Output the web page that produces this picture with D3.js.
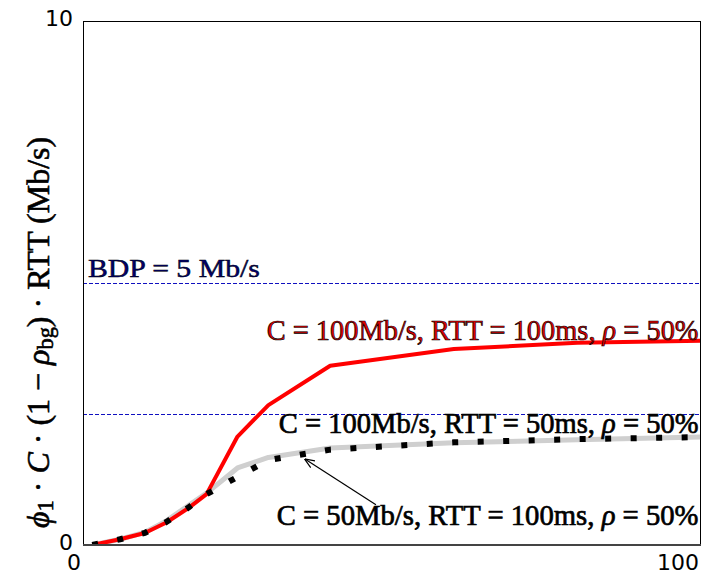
<!DOCTYPE html>
<html>
<head>
<meta charset="utf-8">
<script src="https://cdn.jsdelivr.net/npm/d3@7"></script>
<style>
  body { margin: 0; background: #fff; }
  svg { display: block; }
</style>
</head>
<body>
<svg id="chart" width="703" height="575"></svg>
<script>
// Sample points shared by all three runs (x axis, 0..100)
const xValues = [1.5, 6, 10, 13.5, 17, 20, 25, 30, 40, 60, 80, 100];
// C = 100Mb/s, RTT = 100ms
const series100x100 = [0, 0.11, 0.23, 0.43, 0.70, 0.97, 2.07, 2.67, 3.42, 3.74, 3.86, 3.90];
// C = 100Mb/s, RTT = 50ms
const series100x50 = [0, 0.11, 0.24, 0.46, 0.75, 0.99, 1.47, 1.67, 1.85, 1.95, 2.01, 2.06];
// C = 50Mb/s, RTT = 100ms
const series50x100 = [0, 0.11, 0.23, 0.44, 0.71, 0.97, 1.30, 1.62, 1.82, 1.96, 2.02, 2.06];
// Bandwidth-delay product reference levels
const refLevels = [5, 2.5];
const xTickValues = [0, 100];
const yTickValues = [0, 10];
const seriesLabels = [
  "C = 100Mb/s, RTT = 100ms, ",
  "C = 100Mb/s, RTT = 50ms, ",
  "C = 50Mb/s, RTT = 100ms, "
];
const bdpLabel = "BDP = 5 Mb/s";

const svg = d3.select("#chart");
const plot = { left: 83, right: 701, top: 21, bottom: 545 };

const x = d3.scaleLinear().domain([0, 100]).range([plot.left, plot.right]);
const y = d3.scaleLinear().domain([0, 10]).range([plot.bottom, plot.top]);

const defs = svg.append("defs");
defs.append("clipPath").attr("id", "plotClip")
  .append("rect")
  .attr("x", plot.left).attr("y", plot.top)
  .attr("width", plot.right - plot.left).attr("height", plot.bottom - plot.top);

const line = d3.line().x(d => x(d[0])).y(d => y(d[1]));
const zip = vals => xValues.map((v, i) => [v, vals[i]]);

const g = svg.append("g").attr("clip-path", "url(#plotClip)");

// Reference lines
g.selectAll("line.ref").data(refLevels).join("line")
  .attr("class", "ref")
  .attr("x1", plot.left).attr("x2", plot.right)
  .attr("y1", d => Math.round(y(d)) + 0.5).attr("y2", d => Math.round(y(d)) + 0.5)
  .attr("stroke", "#1010c0").attr("stroke-width", 1)
  .attr("stroke-dasharray", "4,2");

// Gray run
g.append("path").datum(zip(series100x50))
  .attr("d", line).attr("fill", "none")
  .attr("stroke", "#cfcfcf").attr("stroke-width", 5)
  .attr("stroke-linejoin", "round");

// Red run
g.append("path").datum(zip(series100x100))
  .attr("d", line).attr("fill", "none")
  .attr("stroke", "#ff0000").attr("stroke-width", 4)
  .attr("stroke-linejoin", "round");

// Dotted black run
g.append("path").datum(zip(series50x100))
  .attr("d", line).attr("fill", "none")
  .attr("stroke", "#000").attr("stroke-width", 6)
  .attr("stroke-dasharray", "6,19.5")
  .attr("stroke-linecap", "butt");

// Frame
svg.append("rect")
  .attr("x", plot.left + 0.5).attr("y", plot.top + 0.5)
  .attr("width", plot.right - plot.left - 1).attr("height", plot.bottom - plot.top - 1)
  .attr("fill", "none").attr("stroke", "#000").attr("stroke-width", 1);
svg.append("line")
  .attr("x1", plot.left).attr("x2", plot.right)
  .attr("y1", plot.bottom).attr("y2", plot.bottom)
  .attr("stroke", "#444").attr("stroke-width", 2);

// Tick labels
const tickFont = "'DejaVu Sans', sans-serif";
svg.selectAll("text.xtick").data(xTickValues).join("text")
  .attr("class", "xtick")
  .attr("x", d => x(d) - 2).attr("y", 570)
  .attr("text-anchor", "end")
  .attr("font-family", tickFont).attr("font-size", 22)
  .text(d => d);
svg.selectAll("text.ytick").data(yTickValues).join("text")
  .attr("class", "ytick")
  .attr("x", plot.left - 10).attr("y", d => y(d) - 3)
  .attr("dy", "0.36em")
  .attr("text-anchor", "end")
  .attr("font-family", tickFont).attr("font-size", 22)
  .text(d => d);

// Math-style labels
const serif = "'Liberation Serif', 'DejaVu Serif', serif";

// Squeeze a right- or left-anchored label horizontally to a given width
function fitWidth(sel, anchorX, width) {
  const w = sel.node().getComputedTextLength();
  const k = width / w;
  sel.attr("transform", `translate(${anchorX},0) scale(${k},1) translate(${-anchorX},0)`);
}

function seriesText(label, px, py, width, fill) {
  const t = svg.append("text")
    .attr("x", px).attr("y", py)
    .attr("text-anchor", "end")
    .attr("font-family", serif).attr("font-size", 30)
    .attr("fill", fill).attr("stroke", "#000").attr("stroke-width", 0.7);
  t.append("tspan").text(label);
  t.append("tspan").attr("font-style", "italic").text("ρ");
  t.append("tspan").text(" = 50%");
  fitWidth(t, px, width);
  return t;
}

seriesText(seriesLabels[0], x(99.6), y(3.91), 432, "#e00000");
seriesText(seriesLabels[1], x(99.6), y(2.14), 420, "#000");
seriesText(seriesLabels[2], x(99.6), y(0.38), 422, "#000");

const bdp = svg.append("text")
  .attr("x", x(0.8)).attr("y", y(5.12))
  .attr("font-family", serif).attr("font-size", 26)
  .attr("fill", "#000070").attr("stroke", "#000").attr("stroke-width", 0.5)
  .text(bdpLabel);
fitWidth(bdp, x(0.8), 172);

// Annotation arrow pointing at the dotted run
const arrowTail = [47.4, 0.77];
const arrowTip = [35.9, 1.64];
defs.append("marker")
  .attr("id", "arrowHead")
  .attr("viewBox", "0 0 10 10").attr("refX", 9.5).attr("refY", 5)
  .attr("markerWidth", 10).attr("markerHeight", 10)
  .attr("markerUnits", "userSpaceOnUse")
  .attr("orient", "auto")
  .append("path").attr("d", "M0,1 L10,5 L0,9")
  .attr("fill", "none").attr("stroke", "#000").attr("stroke-width", 1.2);
svg.append("line")
  .attr("x1", x(arrowTail[0])).attr("y1", y(arrowTail[1]))
  .attr("x2", x(arrowTip[0])).attr("y2", y(arrowTip[1]))
  .attr("stroke", "#000").attr("stroke-width", 1.2)
  .attr("marker-end", "url(#arrowHead)");

// Y axis title, read bottom to top, sized to span the plot height
const yt = svg.append("text")
  .attr("transform", "translate(49,528) rotate(-90)")
  .attr("text-anchor", "start")
  .attr("font-family", serif).attr("font-size", 28)
  .attr("fill", "#000").attr("stroke", "#000").attr("stroke-width", 0.6);
yt.append("tspan").attr("font-style", "italic").text("ϕ");
yt.append("tspan").attr("font-size", "0.7em").attr("dy", "0.2em").text("1");
yt.append("tspan").attr("dy", "-0.14em").text(" · ");
yt.append("tspan").attr("font-style", "italic").text("C");
yt.append("tspan").text(" · (1 − ");
yt.append("tspan").attr("font-style", "italic").text("ρ");
yt.append("tspan").attr("font-size", "0.7em").attr("dy", "0.2em").text("bg");
yt.append("tspan").attr("dy", "-0.14em").text(") · RTT (Mb/s)");
{
  const len = yt.node().getComputedTextLength();
  yt.attr("font-size", Math.min(32, 28 * 448 / len));
}
</script>
</body>
</html>
